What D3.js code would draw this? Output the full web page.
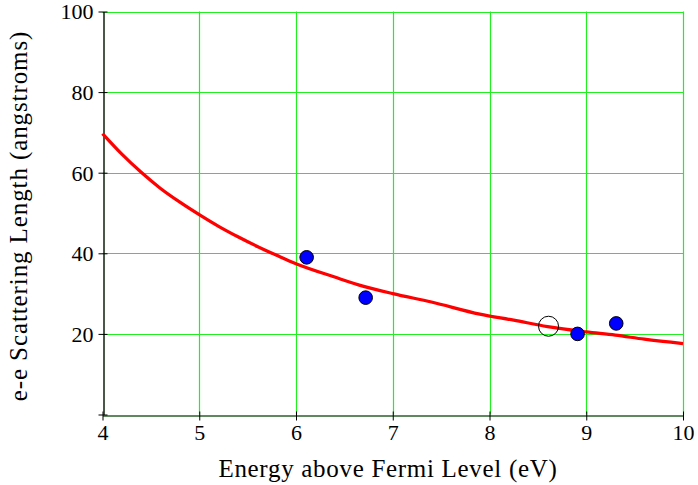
<!DOCTYPE html>
<html><head><meta charset="utf-8">
<script src="https://cdn.jsdelivr.net/npm/d3@7"></script>
<style>html,body{margin:0;padding:0;background:#fff;}svg{display:block;}</style>
</head><body>
<script>
// Data
const curveEnergy = [4, 4.2, 4.4, 4.6, 4.8, 5, 5.2, 5.4, 5.6, 5.8, 6, 6.4, 6.7, 7, 7.4, 7.9, 8.25, 8.6, 9, 9.3, 9.6, 10];
const curveLength = [69.7, 64.6, 60.1, 56.1, 52.7, 49.6, 46.7, 44.1, 41.7, 39.5, 37.4, 34.1, 31.8, 30.0, 27.9, 24.9, 23.4, 21.8, 20.5, 19.7, 18.7, 17.6];
const measEnergy = [6.11, 6.72, 8.91, 9.31];
const measLength = [39, 29, 20, 22.6];
const openEnergy = [8.61];
const openLength = [21.9];
const xTicks = [4, 5, 6, 7, 8, 9, 10];
const yTicks = [0, 20, 40, 60, 80, 100];
const xTitle = "Energy above Fermi Level (eV)";
const yTitle = "e-e Scattering Length (angstroms)";

const W = 698, H = 485;
const svg = d3.select("body").append("svg").attr("width", W).attr("height", H);
const x = d3.scaleLinear().domain([4, 10]).range([102.5, 683]);
const y = d3.scaleLinear().domain([0, 100]).range([414.5, 11.5]);
const font = "'Liberation Serif', 'Times New Roman', serif";

// grid
const g = svg.append("g");
g.selectAll("line.vx").data(xTicks.slice(1)).enter().append("line")
  .attr("x1", d => Math.round(x(d)) + 0.5).attr("x2", d => Math.round(x(d)) + 0.5)
  .attr("y1", y(100)).attr("y2", y(0))
  .attr("stroke", "#22ee22").attr("stroke-width", 1.2);
g.selectAll("line.hy").data(yTicks.slice(1)).enter().append("line")
  .attr("y1", d => Math.round(y(d)) + 0.5).attr("y2", d => Math.round(y(d)) + 0.5)
  .attr("x1", x(4)).attr("x2", x(10))
  .attr("stroke", "#22ee22").attr("stroke-width", 1.2);

// axes
const xAxis = d3.axisBottom(x).tickValues(xTicks).tickFormat(d3.format("d")).tickSize(0).tickPadding(0);
const yAxis = d3.axisLeft(y).tickValues(yTicks).tickFormat(d3.format("d")).tickSize(0).tickPadding(0);
const xa = svg.append("g").attr("transform", `translate(0,${Math.round(y(0)) + 0.5})`).call(xAxis);
xa.attr("font-family", font).attr("font-size", 22);
xa.select(".domain").attr("stroke", "#2d5f2d").attr("stroke-width", 1.5);
xa.selectAll(".tick line").remove();
xa.selectAll(".tick").append("line").attr("y1", -4).attr("y2", 5).attr("stroke", "#000");
xa.selectAll(".tick text").attr("fill", "#000")
  .attr("dy", 0).attr("y", 24).attr("text-anchor", "middle");
const ya = svg.append("g").attr("transform", `translate(${Math.round(x(4)) + 0.5},0)`).call(yAxis);
ya.attr("font-family", font).attr("font-size", 22);
ya.select(".domain").attr("stroke", "#0d200d").attr("stroke-width", 1.5);
ya.selectAll(".tick line").remove();
ya.selectAll(".tick").append("line").attr("x1", -5).attr("x2", 4).attr("stroke", "#000");
ya.selectAll(".tick").filter(d => d === 0).select("text").remove();
ya.selectAll(".tick text").attr("fill", "#000")
  .attr("x", -10).attr("dy", "0.34em").attr("text-anchor", "end");
svg.selectAll(".domain").attr("fill", "none");

// curve
const line = d3.line().x((d, i) => x(curveEnergy[i])).y(d => y(d)).curve(d3.curveMonotoneX);
svg.append("path").datum(curveLength).attr("d", line)
  .attr("fill", "none").attr("stroke", "#ff0000").attr("stroke-width", 3.2).attr("stroke-linejoin", "round");

// points
svg.selectAll("circle.m").data(measEnergy).enter().append("circle")
  .attr("cx", d => x(d)).attr("cy", (d, i) => y(measLength[i])).attr("r", 6.8)
  .attr("fill", "#0000ff").attr("stroke", "#000").attr("stroke-width", 1);
svg.selectAll("circle.o").data(openEnergy).enter().append("circle")
  .attr("cx", d => x(d)).attr("cy", (d, i) => y(openLength[i])).attr("r", 10)
  .attr("fill", "none").attr("stroke", "#000").attr("stroke-width", 1);

// titles
svg.append("text").attr("x", 388).attr("y", 477).attr("text-anchor", "middle")
  .attr("font-family", font).attr("font-size", 25).attr("letter-spacing", 0.7).text(xTitle);
svg.append("text").attr("transform", "translate(27,216) rotate(-90)").attr("text-anchor", "middle")
  .attr("font-family", font).attr("font-size", 25).attr("letter-spacing", 0.9).text(yTitle);
</script>
</body></html>
